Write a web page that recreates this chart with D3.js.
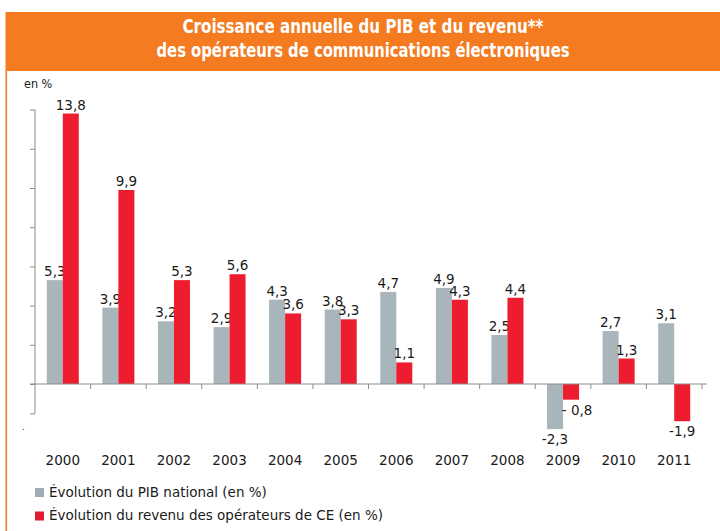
<!DOCTYPE html>
<html><head><meta charset="utf-8">
<script src="https://cdn.jsdelivr.net/npm/d3@7/dist/d3.min.js"></script>
<style>
html,body{margin:0;padding:0;background:#fff;}
svg{display:block;}
</style></head>
<body>
<svg id="c" width="720" height="531"></svg>
<script>
const years = ["2000","2001","2002","2003","2004","2005","2006","2007","2008","2009","2010","2011"];
const pib = [5.3, 3.9, 3.2, 2.9, 4.3, 3.8, 4.7, 4.9, 2.5, -2.3, 2.7, 3.1];
const revenu = [13.8, 9.9, 5.3, 5.6, 3.6, 3.3, 1.1, 4.3, 4.4, -0.8, 1.3, -1.9];
const pibLabels = ["5,3","3,9","3,2","2,9","4,3","3,8","4,7","4,9","2,5","-2,3","2,7","3,1"];
const revenuLabels = ["13,8","9,9","5,3","5,6","3,6","3,3","1,1","4,3","4,4","- 0,8","1,3","-1,9"];
const yTicks = [-1.5, 0, 2, 4, 6, 8, 10, 12, 14];
const titleLines = ["Croissance annuelle du PIB et du revenu**", "des opérateurs de communications électroniques"];
const legendItems = ["Évolution du PIB national (en %)", "Évolution du revenu des opérateurs de CE (en %)"];
const colors = {pib:"#a8b5bb", rev:"#ee1c2f", orange:"#f47b20", axis:"#8c8c8c", text:"#1a1a1a"};

const svg = d3.select("#c");
const font = "'DejaVu Sans', Verdana, sans-serif";

// frame
svg.append("rect").attr("x",6).attr("y",12).attr("width",714).attr("height",59).attr("fill",colors.orange);
svg.append("rect").attr("x",5.5).attr("y",12).attr("width",1.6).attr("height",519).attr("fill",colors.orange);

const titleWidths = [361, 413];
svg.selectAll("text.title").data(titleLines).join("text")
  .attr("class","title")
  .attr("x",(d,i)=>363 - titleWidths[i]/2).attr("y",(d,i)=>32.5+i*24.5)
  .attr("textLength",(d,i)=>titleWidths[i])
  .attr("lengthAdjust","spacingAndGlyphs")
  .attr("fill","#fff")
  .attr("font-family","'DejaVu Sans Condensed','Liberation Sans Narrow',sans-serif")
  .attr("font-stretch","condensed")
  .attr("font-weight","bold")
  .attr("font-size",19.5)
  .text(d=>d);

svg.append("text").attr("x",24).attr("y",88)
  .attr("font-family","'DejaVu Sans Condensed','Liberation Sans Narrow',sans-serif")
  .attr("font-stretch","condensed")
  .attr("font-size",12.5).attr("fill",colors.text).text("en %");

const x0 = d3.scaleBand().domain(years).range([35, 702]).paddingInner(0).paddingOuter(0);
const x1 = d3.scaleBand().domain(["pib","rev"]).range([0, 32]);
const y = d3.scaleLinear().domain([-1.5, 14]).range([413.4, 109.6]);
const off = (x0.bandwidth()-32)/2;

// y axis
const yAxis = d3.axisLeft(y).tickValues(yTicks).tickSize(5).tickFormat("");
const gy = svg.append("g").attr("transform","translate(35,0)").call(yAxis);
gy.select(".domain").attr("stroke",colors.axis).attr("d",`M0,${y(14)}V${y(-1.5)}`);
gy.selectAll(".tick line").attr("stroke",colors.axis);

// bars
const g = svg.append("g");
years.forEach((yr,i)=>{
  [["pib",pib[i],pibLabels[i]],["rev",revenu[i],revenuLabels[i]]].forEach(([k,v,lab])=>{
    const bx = x0(yr)+off+x1(k);
    g.append("rect")
      .attr("x",bx).attr("width",x1.bandwidth())
      .attr("y",y(Math.max(0,v))).attr("height",Math.abs(y(v)-y(0)))
      .attr("fill",k==="pib"?colors.pib:colors.rev);
    g.append("text")
      .attr("x",bx+x1.bandwidth()/2 + (v<0 && k==="rev" && i===9 ? 6 : 0))
      .attr("y", v>=0 ? y(v)-4 : y(v)+15)
      .attr("text-anchor","middle")
      .attr("font-family",font).attr("font-size",13.5).attr("fill",colors.text)
      .text(lab);
  });
});

// x axis
const xAxis = d3.axisBottom(x0).tickSize(0).tickFormat("");
const gx = svg.append("g").attr("transform",`translate(0,${y(0)})`).call(xAxis);
gx.select(".domain").attr("stroke",colors.axis).attr("d","M30,0H707");
gx.selectAll(".tick").remove();
const bounds = years.map(d=>x0(d)).concat([x0(years[years.length-1])+x0.bandwidth()]);
gx.selectAll("line.sep").data(bounds.slice(1)).join("line")
  .attr("class","sep").attr("x1",d=>d).attr("x2",d=>d).attr("y1",0).attr("y2",5)
  .attr("stroke",colors.axis);

svg.selectAll("text.year").data(years).join("text")
  .attr("class","year")
  .attr("x",d=>x0(d)+x0.bandwidth()/2).attr("y",465)
  .attr("text-anchor","middle")
  .attr("font-family",font).attr("font-size",13.5).attr("fill",colors.text)
  .text(d=>d);

svg.append("text").attr("x",22).attr("y",430).attr("font-family",font).attr("font-size",8).attr("fill",colors.text).text(".");

// legend
const lg = svg.selectAll("g.leg").data(legendItems).join("g")
  .attr("class","leg").attr("transform",(d,i)=>`translate(35,${488+i*23.5})`);
lg.append("rect").attr("width",9).attr("height",9).attr("fill",(d,i)=>i===0?"#a0acb3":"#e01c2e");
lg.append("text").attr("x",14).attr("y",8.5)
  .attr("font-family",font).attr("font-size",13.5).attr("fill",colors.text).text(d=>d);
</script>
</body></html>
